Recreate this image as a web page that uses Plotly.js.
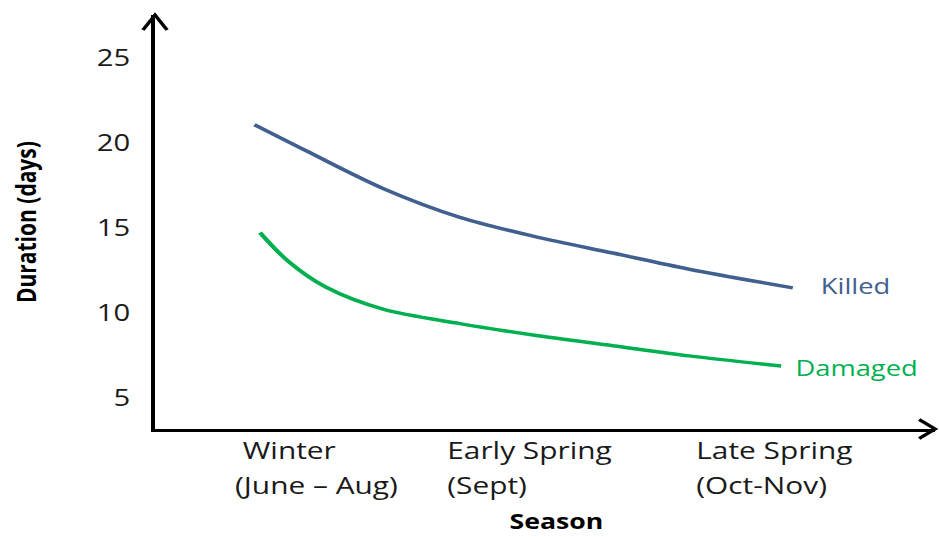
<!DOCTYPE html>
<html>
<head>
<meta charset="utf-8">
<script src="https://cdn.plot.ly/plotly-3.0.1.min.js"></script>
<style>
  html, body { margin: 0; padding: 0; background: #fff; overflow: hidden; }
  #plot { width: 739px; height: 537px; transform: scaleX(1.2706); transform-origin: 0 0; }
</style>
</head>
<body>
<div id="plot"></div>
<script>
// ---- data ----
const categories = ['Winter', 'Early Spring', 'Late Spring'];
const periods = ['(June \u2013 Aug)', '(Sept)', '(Oct-Nov)'];
const killedX = [-0.01, 0.187, 0.475, 0.765, 1.053, 1.342, 1.630, 2.021];
const killedY = [21.05, 19.5, 17.3, 15.6, 14.45, 13.5, 12.55, 11.45];
const damagedX = [0.011, 0.115, 0.259, 0.475, 0.765, 1.053, 1.342, 1.630, 1.977];
const damagedY = [14.7, 13.05, 11.5, 10.2, 9.35, 8.65, 8.05, 7.45, 6.85];
const yTicks = [5, 10, 15, 20, 25];
const seriesNames = ['Killed', 'Damaged'];

// ---- styling / layout ----
const FONT = 'Open Sans, DejaVu Sans, sans-serif';
const killedColor = '#41608F';
const damagedColor = '#00B050';
const labelX = [-0.094, 0.709, 1.645];

const traces = [
  { x: killedX, y: killedY, name: seriesNames[0], mode: 'lines', type: 'scatter',
    line: { color: killedColor, width: 3.5, shape: 'spline', smoothing: 0.9 } },
  { x: damagedX, y: damagedY, name: seriesNames[1], mode: 'lines', type: 'scatter',
    line: { color: damagedColor, width: 3.5, shape: 'spline', smoothing: 0.9 } }
];

const annotations = [];
categories.forEach((c, i) => {
  annotations.push({ xref: 'x', yref: 'paper', x: labelX[i], y: -0.0507,
    text: (i === 0 ? '\u00A0' : '') + c, showarrow: false, xanchor: 'left', yanchor: 'middle',
    align: 'left', font: { family: FONT, size: 23.5, color: '#1a1a1a' } });
  annotations.push({ xref: 'x', yref: 'paper', x: labelX[i], y: -0.135,
    text: periods[i], showarrow: false, xanchor: 'left', yanchor: 'middle',
    align: 'left', font: { family: FONT, size: 23.5, color: '#1a1a1a' } });
});
annotations.push({ xref: 'x', yref: 'y', x: 2.117, y: 11.59, text: seriesNames[0],
  showarrow: false, xanchor: 'left', yanchor: 'middle',
  font: { family: FONT, size: 21.5, color: killedColor } });
annotations.push({ xref: 'x', yref: 'y', x: 2.019, y: 6.76, text: seriesNames[1],
  showarrow: false, xanchor: 'left', yanchor: 'middle',
  font: { family: FONT, size: 21.5, color: damagedColor } });
annotations.push({ xref: 'paper', yref: 'paper', x: 0.514, y: -0.2609, text: '<b>Season</b>',
  showarrow: false, xanchor: 'center', yanchor: 'bottom',
  font: { family: FONT, size: 21, color: '#000' } });
annotations.push({ xref: 'paper', yref: 'paper', x: -0.166, y: 0.5, text: '<b>Duration (days)</b>',
  textangle: -90, showarrow: false, xanchor: 'center', yanchor: 'middle',
  font: { family: FONT, size: 21, color: '#000' } });

const shapes = [
  { type: 'path', xref: 'paper', yref: 'paper', xsizemode: 'pixel', ysizemode: 'pixel',
    xanchor: 0, yanchor: 1, path: 'M -9.5,-15 L 0,0 L 9.5,-15',
    line: { color: '#000', width: 3 }, layer: 'above' },
  { type: 'path', xref: 'paper', yref: 'paper', xsizemode: 'pixel', ysizemode: 'pixel',
    xanchor: 1, yanchor: 0, path: 'M -12.6,9.5 L 0,0 L -12.6,-9.5',
    line: { color: '#000', width: 3 }, layer: 'above' }
];

const layout = {
  width: 739, height: 537,
  margin: { l: 122, r: 3, t: 15, b: 108 },
  paper_bgcolor: '#fff', plot_bgcolor: '#fff',
  showlegend: false,
  xaxis: { range: [-0.385, 2.558], showticklabels: false, showgrid: false, zeroline: false,
    showline: true, linecolor: '#000', linewidth: 3, ticks: '' },
  yaxis: { range: [3.15, 27.5], tickvals: yTicks, showgrid: false, zeroline: false,
    showline: true, linecolor: '#000', linewidth: 3, ticks: 'outside', ticklen: 12,
    tickcolor: 'rgba(0,0,0,0)', tickfont: { family: FONT, size: 23, color: '#1a1a1a' } },
  annotations: annotations,
  shapes: shapes
};

Plotly.newPlot('plot', traces, layout, { displayModeBar: false, staticPlot: true });
</script>
</body>
</html>
